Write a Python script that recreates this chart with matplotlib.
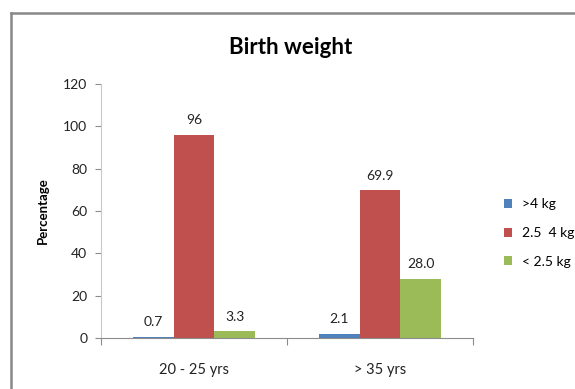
import matplotlib.pyplot as plt
from matplotlib.lines import Line2D
import numpy as np

categories = ["20 - 25 yrs", "> 35 yrs"]
series_names = [">4 kg", "2.5  4 kg", "< 2.5 kg"]
series_labels = [
    ["0.7", "2.1"],
    ["96", "69.9"],
    ["3.3", "28.0"],
]
series_values = [[float(s) for s in row] for row in series_labels]
colors = ["#4F81BD", "#C0504D", "#9BBB59"]
yticks = [0, 20, 40, 60, 80, 100, 120]

plt.rcParams['font.family'] = ['Lato', 'DejaVu Sans']

fig = plt.figure(figsize=(5.75, 3.89), dpi=100)
ax = fig.add_axes([0.1757, 0.1311, 0.6469, 0.6529])

x = np.arange(len(categories))
width = 0.22
for i, (vals, labs, c) in enumerate(zip(series_values, series_labels, colors)):
    pos = x + (i - 1) * width
    bars = ax.bar(pos, vals, width, color=c, label=series_names[i])
    for b, v, t in zip(bars, vals, labs):
        ax.annotate(t, (b.get_x() + b.get_width() / 2, v),
                    xytext=(0, 6), textcoords="offset points",
                    ha="center", va="bottom", fontsize=10, color="#222222")

ax.set_xlim(-0.5, 1.5)
ax.set_ylim(0, 120)
ax.set_yticks(yticks)
ax.tick_params(axis='y', length=4, color="#8c8c8c", labelsize=10,
               labelcolor="#222222", pad=6)
ax.set_xticks([-0.5, 0.5, 1.5])
ax.set_xticklabels([])
ax.tick_params(axis='x', which='major', length=5, color="#8c8c8c")
ax.set_xticks(x, minor=True)
ax.set_xticklabels(categories, minor=True)
ax.tick_params(axis='x', which='minor', length=0, pad=18, labelsize=10.5,
               labelcolor="#222222")

for side in ("top", "right"):
    ax.spines[side].set_visible(False)
ax.spines["left"].set_color("#c8c8c8")
ax.spines["bottom"].set_color("#8c8c8c")

ax.set_ylabel("Percentage", fontsize=9.5, fontweight="bold", labelpad=10)
fig.text(0.505, 0.878, "Birth weight", ha="center", va="center",
         fontsize=16, fontweight="bold")

ax.legend(loc="center left", bbox_to_anchor=(1.05, 0.413), frameon=False,
          fontsize=10, handlelength=0.6, handleheight=0.6,
          handletextpad=0.7, labelspacing=1.2)

# outer frame lines
fig.add_artist(Line2D([11 / 575, 11 / 575], [0, 1 - 13 / 389],
                      transform=fig.transFigure, color="#888888", lw=1.8))
fig.add_artist(Line2D([11 / 575, 1], [1 - 13 / 389, 1 - 13 / 389],
                      transform=fig.transFigure, color="#888888", lw=1.8))

fig.savefig("out.png", dpi=100, facecolor="white")
